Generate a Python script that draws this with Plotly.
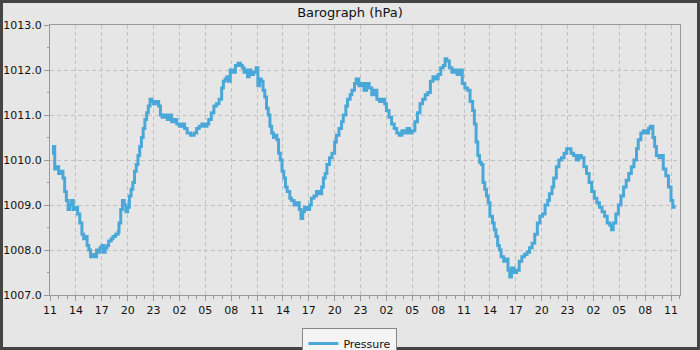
import pandas as pd
import plotly.graph_objects as go

# ---- data ----
start_time = "2024-01-01 11:00"
hours = [0.23, 0.4, 0.55, 0.8, 1.0, 1.3, 1.5, 1.7, 1.9, 2.1, 2.3, 2.5, 2.7, 3.0, 3.2, 3.45, 3.7, 3.9,
         4.1, 4.3, 4.5, 4.7, 4.9, 5.2, 5.4, 5.6, 5.8, 6.0, 6.2, 6.4, 6.6, 6.8, 7.1, 7.3, 7.6, 7.9,
         8.0, 8.2, 8.4, 8.6, 8.8, 9.0, 9.2, 9.4, 9.6, 9.8, 10.0, 10.2, 10.4, 10.6, 10.8, 11.0, 11.2,
         11.4, 11.6, 11.8, 12.0, 12.3, 12.6, 12.8, 13.0, 13.3, 13.6, 13.9, 14.1, 14.4, 14.7, 15.0,
         15.3, 15.6, 15.9, 16.3, 16.7, 17.0, 17.3, 17.6, 17.9, 18.2, 18.4, 18.7, 19.0, 19.3, 19.6,
         19.9, 20.1, 20.3, 20.5, 20.7, 20.9, 21.2, 21.5, 21.8, 22.1, 22.3, 22.5, 22.7, 22.9, 23.1,
         23.3, 23.6, 23.9, 24.1, 24.3, 24.5, 24.7, 24.9, 25.1, 25.3, 25.5, 25.7, 25.9, 26.1, 26.3,
         26.5, 26.7, 26.9, 27.1, 27.3, 27.5, 27.8, 28.0, 28.3, 28.6, 28.9, 29.1, 29.3, 29.5, 29.8,
         30.1, 30.3, 30.6, 30.9, 31.2, 31.5, 31.7, 31.9, 32.1, 32.4, 32.7, 33.0, 33.2, 33.5, 33.8,
         34.0, 34.3, 34.5, 34.8, 35.0, 35.3, 35.5, 35.8, 36.1, 36.4, 36.7, 37.0, 37.3, 37.6, 37.9,
         38.2, 38.5, 38.8, 39.0, 39.3, 39.6, 39.9, 40.2, 40.5, 40.8, 41.1, 41.4, 41.7, 42.0, 42.3,
         42.6, 42.9, 43.2, 43.5, 43.8, 44.1, 44.4, 44.7, 45.0, 45.3, 45.6, 45.8, 46.0, 46.3, 46.6,
         46.9, 47.2, 47.5, 47.8, 48.1, 48.4, 48.7, 49.0, 49.2, 49.4, 49.6, 49.8, 50.0, 50.2, 50.4,
         50.6, 50.8, 51.0, 51.3, 51.5, 51.7, 51.9, 52.1, 52.3, 52.6, 52.9, 53.1, 53.3, 53.5, 53.8,
         54.1, 54.4, 54.7, 55.0, 55.3, 55.6, 55.9, 56.2, 56.5, 56.8, 57.1, 57.4, 57.7, 57.9, 58.2,
         58.4, 58.7, 59.0, 59.3, 59.6, 59.9, 60.1, 60.4, 60.7, 61.0, 61.3, 61.6, 61.9, 62.2, 62.5,
         62.8, 63.1, 63.4, 63.7, 64.0, 64.3, 64.6, 64.9, 65.1, 65.3, 65.6, 65.9, 66.2, 66.5, 66.8,
         67.1, 67.4, 67.7, 68.0, 68.2, 68.5, 68.8, 69.1, 69.4, 69.6, 69.9, 70.1, 70.3, 70.6, 70.9,
         71.1, 71.4, 71.7, 72.0, 72.2, 72.35]
pressure = [1010.15, 1010.3, 1009.8, 1009.85, 1009.7, 1009.75, 1009.6, 1009.3, 1009.1, 1008.9, 1009.0,
            1009.1, 1008.9, 1008.95, 1008.8, 1008.6, 1008.35, 1008.25, 1008.3, 1008.1, 1008.0, 1007.85,
            1007.9, 1007.85, 1008.0, 1007.95, 1008.05, 1008.1, 1007.95, 1008.05, 1008.1, 1008.2, 1008.25,
            1008.3, 1008.35, 1008.4, 1008.6, 1008.9, 1009.1, 1009.0, 1008.85, 1008.95, 1009.2, 1009.35,
            1009.5, 1009.75, 1009.9, 1010.1, 1010.3, 1010.5, 1010.7, 1010.9, 1011.05, 1011.2, 1011.35,
            1011.3, 1011.25, 1011.3, 1011.2, 1011.0, 1010.95, 1011.0, 1010.9, 1011.0, 1010.85, 1010.9,
            1010.8, 1010.75, 1010.8, 1010.7, 1010.6, 1010.55, 1010.6, 1010.7, 1010.75, 1010.8, 1010.75,
            1010.8, 1010.9, 1011.05, 1011.2, 1011.25, 1011.35, 1011.6, 1011.75, 1011.8, 1011.85, 1011.75,
            1012.0, 1011.95, 1012.1, 1012.15, 1012.1, 1012.05, 1011.95, 1012.0, 1011.85, 1012.0, 1011.9,
            1011.95, 1012.05, 1011.65, 1011.8, 1011.75, 1011.55, 1011.4, 1011.15, 1011.0, 1010.75, 1010.6,
            1010.5, 1010.55, 1010.45, 1010.15, 1010.0, 1009.75, 1009.6, 1009.4, 1009.3, 1009.15, 1009.1,
            1009.0, 1009.05, 1008.9, 1008.7, 1008.85, 1008.95, 1008.9, 1009.0, 1009.15, 1009.2, 1009.3,
            1009.25, 1009.4, 1009.6, 1009.7, 1009.9, 1010.05, 1010.15, 1010.4, 1010.55, 1010.7, 1010.85,
            1011.0, 1011.2, 1011.35, 1011.45, 1011.55, 1011.7, 1011.8, 1011.65, 1011.7, 1011.55, 1011.7,
            1011.6, 1011.45, 1011.55, 1011.35, 1011.3, 1011.35, 1011.25, 1011.1, 1010.95, 1010.8, 1010.7,
            1010.6, 1010.55, 1010.65, 1010.6, 1010.7, 1010.6, 1010.65, 1010.85, 1011.05, 1011.25, 1011.35,
            1011.45, 1011.5, 1011.75, 1011.85, 1011.8, 1011.9, 1012.05, 1012.1, 1012.25, 1012.2, 1012.05,
            1011.95, 1012.0, 1011.9, 1012.0, 1011.7, 1011.6, 1011.55, 1011.3, 1011.1, 1010.8, 1010.4,
            1010.1, 1009.95, 1009.9, 1009.5, 1009.35, 1009.2, 1009.05, 1008.75, 1008.6, 1008.45, 1008.3,
            1008.1, 1008.0, 1007.85, 1007.75, 1007.8, 1007.55, 1007.4, 1007.6, 1007.5, 1007.55, 1007.75,
            1007.85, 1007.9, 1007.95, 1008.05, 1008.15, 1008.35, 1008.6, 1008.75, 1008.8, 1009.0, 1009.1,
            1009.25, 1009.4, 1009.6, 1009.85, 1010.0, 1010.05, 1010.15, 1010.25, 1010.25, 1010.15, 1010.1,
            1010.0, 1010.1, 1010.05, 1009.85, 1009.7, 1009.5, 1009.3, 1009.15, 1009.05, 1008.95, 1008.85,
            1008.75, 1008.6, 1008.55, 1008.45, 1008.6, 1008.8, 1009.0, 1009.2, 1009.4, 1009.55, 1009.7,
            1009.85, 1010.0, 1010.25, 1010.45, 1010.6, 1010.65, 1010.6, 1010.7, 1010.75, 1010.5, 1010.3,
            1010.1, 1010.05, 1010.1, 1009.8, 1009.65, 1009.4, 1009.1, 1008.95, 1009.0]
series_name = "Pressure"
chart_title = "Barograph (hPa)"
y_min, y_max = 1007.0, 1013.0
x_span_hours = 73.04

t0 = pd.Timestamp(start_time)
times = [t0 + pd.Timedelta(hours=h) for h in hours]

fig = go.Figure()
fig.add_trace(go.Scatter(
    x=times, y=pressure, mode="lines", name=series_name,
    line=dict(color="#4aa8d8", width=3, shape="hv"),
))

grid_color = "#c0c0c0"
axis_color = "#999999"
font_family = "DejaVu Sans"

fig.update_layout(
    width=700, height=350,
    margin=dict(l=50, r=20, t=25, b=55, autoexpand=False),
    paper_bgcolor="#e6e6e6", plot_bgcolor="#e6e6e6",
    font=dict(family=font_family, size=11, color="#111111"),
    title=dict(text=chart_title, x=0.5, xanchor="center", y=0.965, yanchor="middle",
               font=dict(size=13, color="#111111")),
    showlegend=True,
    legend=dict(orientation="h", x=0.476, xanchor="center", y=-0.122, yanchor="top",
                bgcolor="#f4f4f4", bordercolor="#888888", borderwidth=1,
                font=dict(size=11), itemwidth=30),
    xaxis=dict(
        type="date", automargin=False,
        range=[t0, t0 + pd.Timedelta(hours=x_span_hours)],
        tick0=t0, dtick=3 * 3600000, tickformat="%H",
        ticks="outside", ticklen=5, tickcolor=axis_color,
        showline=True, linecolor=axis_color, linewidth=1, mirror=True,
        showgrid=True, gridcolor=grid_color, griddash="4px,3px", gridwidth=1,
        minor=dict(dtick=3600000, tick0=t0, ticks="outside", ticklen=3, tickcolor=axis_color, showgrid=False),
        zeroline=False, fixedrange=True,
    ),
    yaxis=dict(
        range=[y_min, y_max], dtick=1, tickformat=".1f", automargin=False,
        ticks="outside", ticklen=5, tickcolor=axis_color,
        showline=True, linecolor=axis_color, linewidth=1, mirror=True,
        showgrid=True, gridcolor=grid_color, griddash="4px,3px", gridwidth=1,
        minor=dict(dtick=0.5, ticks="outside", ticklen=2, tickcolor=axis_color, showgrid=False),
        zeroline=False,
    ),
)

# outer dark frame around the whole image
fig.add_shape(type="rect", xref="paper", yref="paper",
              x0=-48.5 / 630, x1=648.5 / 630, y0=-53.5 / 270, y1=293.5 / 270,
              line=dict(color="#444444", width=3), fillcolor="rgba(0,0,0,0)", layer="above")

fig.write_html("out.html")
